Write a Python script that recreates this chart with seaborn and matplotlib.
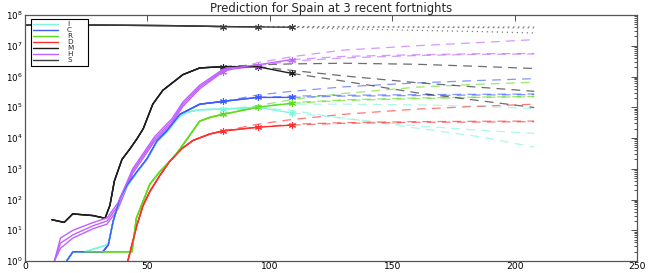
import matplotlib
matplotlib.use("Agg")
import matplotlib.pyplot as plt
import seaborn as sns
from matplotlib.lines import Line2D
from matplotlib.ticker import LogLocator, LogFormatterMathtext, NullFormatter

# ---------------- data ----------------
VARS = ["I", "C", "R", "D", "M", "H", "S"]
FORTNIGHTS = [81, 95, 109]
PRED_X1 = [81, 95, 109, 130, 160, 185, 208]
PRED_X2 = [95, 109, 130, 160, 185, 208]
PRED_X3 = [109, 130, 160, 185, 208]

I_hist_x = [17, 19.6, 24.5, 32.7, 34, 36, 38.8, 41.6, 45.7, 49.8, 53.9, 58, 63.3, 67, 71.4, 81]
I_hist = [1, 2, 2, 3.2, 3.5, 19.5, 100, 263, 759, 2000, 7590, 1.58e4, 5.25e4, 7.1e4, 8.3e4, 8.7e4]
I_recent = [8.7e4, 1.0e5, 6.5e4]
I_pred1 = [8.7e4, 1.12e5, 1.26e5, 1.26e5, 1.2e5, 1.07e5, 9.1e4]
I_pred2 = [1.0e5, 7.9e4, 4.3e4, 2.5e4, 1.8e4, 1.41e4]
I_pred3 = [6.5e4, 4.5e4, 2.1e4, 1.12e4, 5.1e3]

C_hist_x = [17, 19.6, 31.8, 34, 36, 38.8, 41.6, 45.7, 49.8, 53.9, 58, 63.3, 71.4, 81]
C_hist = [1, 2, 2, 3.3, 19.5, 107, 282, 794, 2090, 7940, 1.7e4, 5.9e4, 1.26e5, 1.55e5]
C_recent = [1.55e5, 2.09e5, 2.09e5]
C_pred1 = [1.55e5, 2.5e5, 3.3e5, 4.6e5, 6.2e5, 7.4e5, 8.5e5]
C_pred2 = [2.09e5, 2.3e5, 2.45e5, 2.57e5, 2.63e5, 2.7e5]
C_pred3 = [2.09e5, 2.3e5, 2.4e5, 2.5e5, 2.57e5]

R_hist_x = [24.5, 43.7, 45.5, 48, 51, 55, 59, 62, 66.5, 71.4, 76, 81]
R_hist = [2, 2, 25, 79, 316, 794, 1700, 3160, 1.0e4, 3.55e4, 4.8e4, 5.9e4]
R_recent = [5.9e4, 1.0e5, 1.35e5]
R_pred1 = [5.9e4, 1.12e5, 1.78e5, 2.8e5, 4.5e5, 5.6e5, 6.5e5]
R_pred2 = [1.0e5, 1.41e5, 1.74e5, 2.0e5, 2.14e5, 2.24e5]
R_pred3 = [1.35e5, 1.66e5, 1.9e5, 2.09e5, 2.19e5]

D_hist_x = [42, 45.7, 48.2, 51, 55, 59, 64, 68.6, 75.5, 81]
D_hist = [1, 14.5, 63, 182, 589, 1700, 4470, 8320, 1.35e4, 1.7e4]
D_recent = [1.7e4, 2.24e4, 2.63e4]
D_pred1 = [1.7e4, 2.8e4, 4.0e4, 5.9e4, 8.7e4, 1.07e5, 1.26e5]
D_pred2 = [2.24e4, 2.8e4, 3.16e4, 3.4e4, 3.5e4, 3.55e4]
D_pred3 = [2.63e4, 3.0e4, 3.24e4, 3.3e4, 3.4e4]

M_hist_x = [11, 16, 19.5, 27.8, 32.7, 34.7, 36.5, 39.6, 42.9, 45.7, 48.3, 52.2, 56.3, 64.5, 71.4, 81]
M_hist = [22, 18, 34, 30, 24.5, 65, 398, 2000, 4470, 9330, 2.0e4, 1.26e5, 3.55e5, 1.15e6, 1.9e6, 2.09e6]
M_recent = [2.09e6, 2.09e6, 1.26e6]
M_pred1 = [2.09e6, 2.4e6, 2.57e6, 2.7e6, 2.5e6, 2.14e6, 1.82e6]
M_pred2 = [2.09e6, 1.58e6, 1.05e6, 6.3e5, 4.5e5, 3.3e5]
M_pred3 = [1.26e6, 7.1e5, 2.95e5, 1.66e5, 9.8e4]

H_hist_x = [12, 14.5, 19.6, 27.8, 33.5, 38, 44, 53, 60, 64.5, 71.4, 81]
H_hist1 = [1, 2.6, 5.6, 11.2, 15.8, 50, 708, 7940, 3.0e4, 1.07e5, 4.0e5, 1.45e6]
H_hist2 = [1, 3.8, 7.1, 14, 20, 63, 851, 9330, 3.55e4, 1.26e5, 4.6e5, 1.58e6]
H_hist3 = [1, 5.6, 10, 17.8, 25, 79, 1000, 1.12e4, 4.2e4, 1.48e5, 5.25e5, 1.74e6]
H_recent1 = [1.45e6]
H_recent2 = [1.58e6, 2.24e6]
H_recent3 = [1.74e6, 2.4e6, 3.55e6]
H_pred1 = [1.45e6, 2.8e6, 4.4e6, 7.2e6, 1.0e7, 1.26e7, 1.58e7]
H_pred2 = [2.24e6, 3.16e6, 4.0e6, 4.8e6, 5.25e6, 5.4e6]
H_pred3 = [3.55e6, 4.5e6, 5.1e6, 5.5e6, 5.6e6]

S_hist_x = [0, 30, 60, 81]
S_hist = [4.7e7, 4.7e7, 4.5e7, 4.2e7]
S_recent = [4.2e7, 4.1e7, 4.0e7]
S_pred1 = [4.2e7, 4.2e7, 4.2e7, 4.2e7, 4.1e7, 4.1e7, 4.1e7]
S_pred2 = [4.1e7, 4.1e7, 4.0e7, 4.0e7, 3.9e7, 3.8e7]
S_pred3 = [4.0e7, 3.55e7, 3.16e7, 2.9e7, 2.6e7]

COLORS = {"I": "#7ff5dc", "C": "#3f5cff", "R": "#5fdc1c", "D": "#ff2f2f",
          "M": "#1e1e1e", "H": "#c060ff", "S": "#3a3a3a"}

# ---------------- assemble ----------------
HIST = {"I": (I_hist_x, [I_hist] * 3, [I_recent] * 3),
        "C": (C_hist_x, [C_hist] * 3, [C_recent] * 3),
        "R": (R_hist_x, [R_hist] * 3, [R_recent] * 3),
        "D": (D_hist_x, [D_hist] * 3, [D_recent] * 3),
        "M": (M_hist_x, [M_hist] * 3, [M_recent] * 3),
        "H": (H_hist_x, [H_hist1, H_hist2, H_hist3], [H_recent1, H_recent2, H_recent3]),
        "S": (S_hist_x, [S_hist] * 3, [S_recent] * 3)}
PRED = {"I": [I_pred1, I_pred2, I_pred3], "C": [C_pred1, C_pred2, C_pred3],
        "R": [R_pred1, R_pred2, R_pred3], "D": [D_pred1, D_pred2, D_pred3],
        "M": [M_pred1, M_pred2, M_pred3], "H": [H_pred1, H_pred2, H_pred3],
        "S": [S_pred1, S_pred2, S_pred3]}
PRED_X = [PRED_X1, PRED_X2, PRED_X3]

# ---------------- plot ----------------
sns.set_theme(style="white")
plt.rcParams["font.family"] = ["DejaVu Sans"]

fig = plt.figure(figsize=(6.54, 2.73), dpi=100)
ax = fig.add_axes([25 / 654, 1 - 261 / 273, 612 / 654, 246 / 273])
ax.set_yscale("log")
ast = (6, 2, 0)

for k in range(3):
    for v in VARS:
        hx, hys, recs = HIST[v]
        xs = list(hx) + FORTNIGHTS[1:k + 1]
        ys = list(hys[k]) + list(recs[k][1:k + 1])
        c = COLORS[v]
        sns.lineplot(x=xs, y=ys, ax=ax, color=c, lw=1.0, sort=False,
                     estimator=None, marker=ast, markevery=[len(xs) - 1],
                     markersize=5, markeredgewidth=0.8, markeredgecolor=c)
        ls_kw = dict(dashes=(1, 3), lw=0.9) if v == "S" else dict(dashes=(7, 5), lw=0.9)
        sns.lineplot(x=PRED_X[k], y=PRED[v][k], ax=ax, color=c, alpha=0.65,
                     sort=False, estimator=None, **ls_kw)

ax.set_xlim(0, 250)
ax.set_ylim(1, 1e8)
ax.set_xticks([0, 50, 100, 150, 200, 250])
ax.yaxis.set_major_locator(LogLocator(base=10, numticks=20))
ax.yaxis.set_minor_locator(LogLocator(base=10, subs=range(2, 10), numticks=100))
ax.yaxis.set_major_formatter(LogFormatterMathtext())
ax.yaxis.set_minor_formatter(NullFormatter())
ax.tick_params(which="both", direction="in", top=True, right=True,
               colors="#333333", labelcolor="black", labelsize=6.6, width=0.6)
ax.tick_params(which="major", length=4, pad=2)
ax.tick_params(axis="x", which="major", pad=1)
ax.tick_params(axis="y", which="major", labelsize=6.3)
ax.tick_params(which="minor", length=2)
for sp in ax.spines.values():
    sp.set_color("#555555")
    sp.set_linewidth(0.9)
ax.set_title("Prediction for Spain at 3 recent fortnights", fontsize=8.4, pad=2)

handles = [Line2D([0], [0], color=COLORS[v], lw=1.0) for v in VARS]
leg = ax.legend(handles, VARS, loc="upper left",
                bbox_to_anchor=(0.0098, 0.5, 0.093, 0.484), mode="expand",
                borderaxespad=0, fontsize=5.2, frameon=True, fancybox=False,
                edgecolor="black", labelspacing=0.0, handlelength=3.4,
                handletextpad=1.3, borderpad=0.3)
leg.get_frame().set_linewidth(0.8)
leg.get_frame().set_alpha(1)

fig.savefig("out.png", dpi=100)
